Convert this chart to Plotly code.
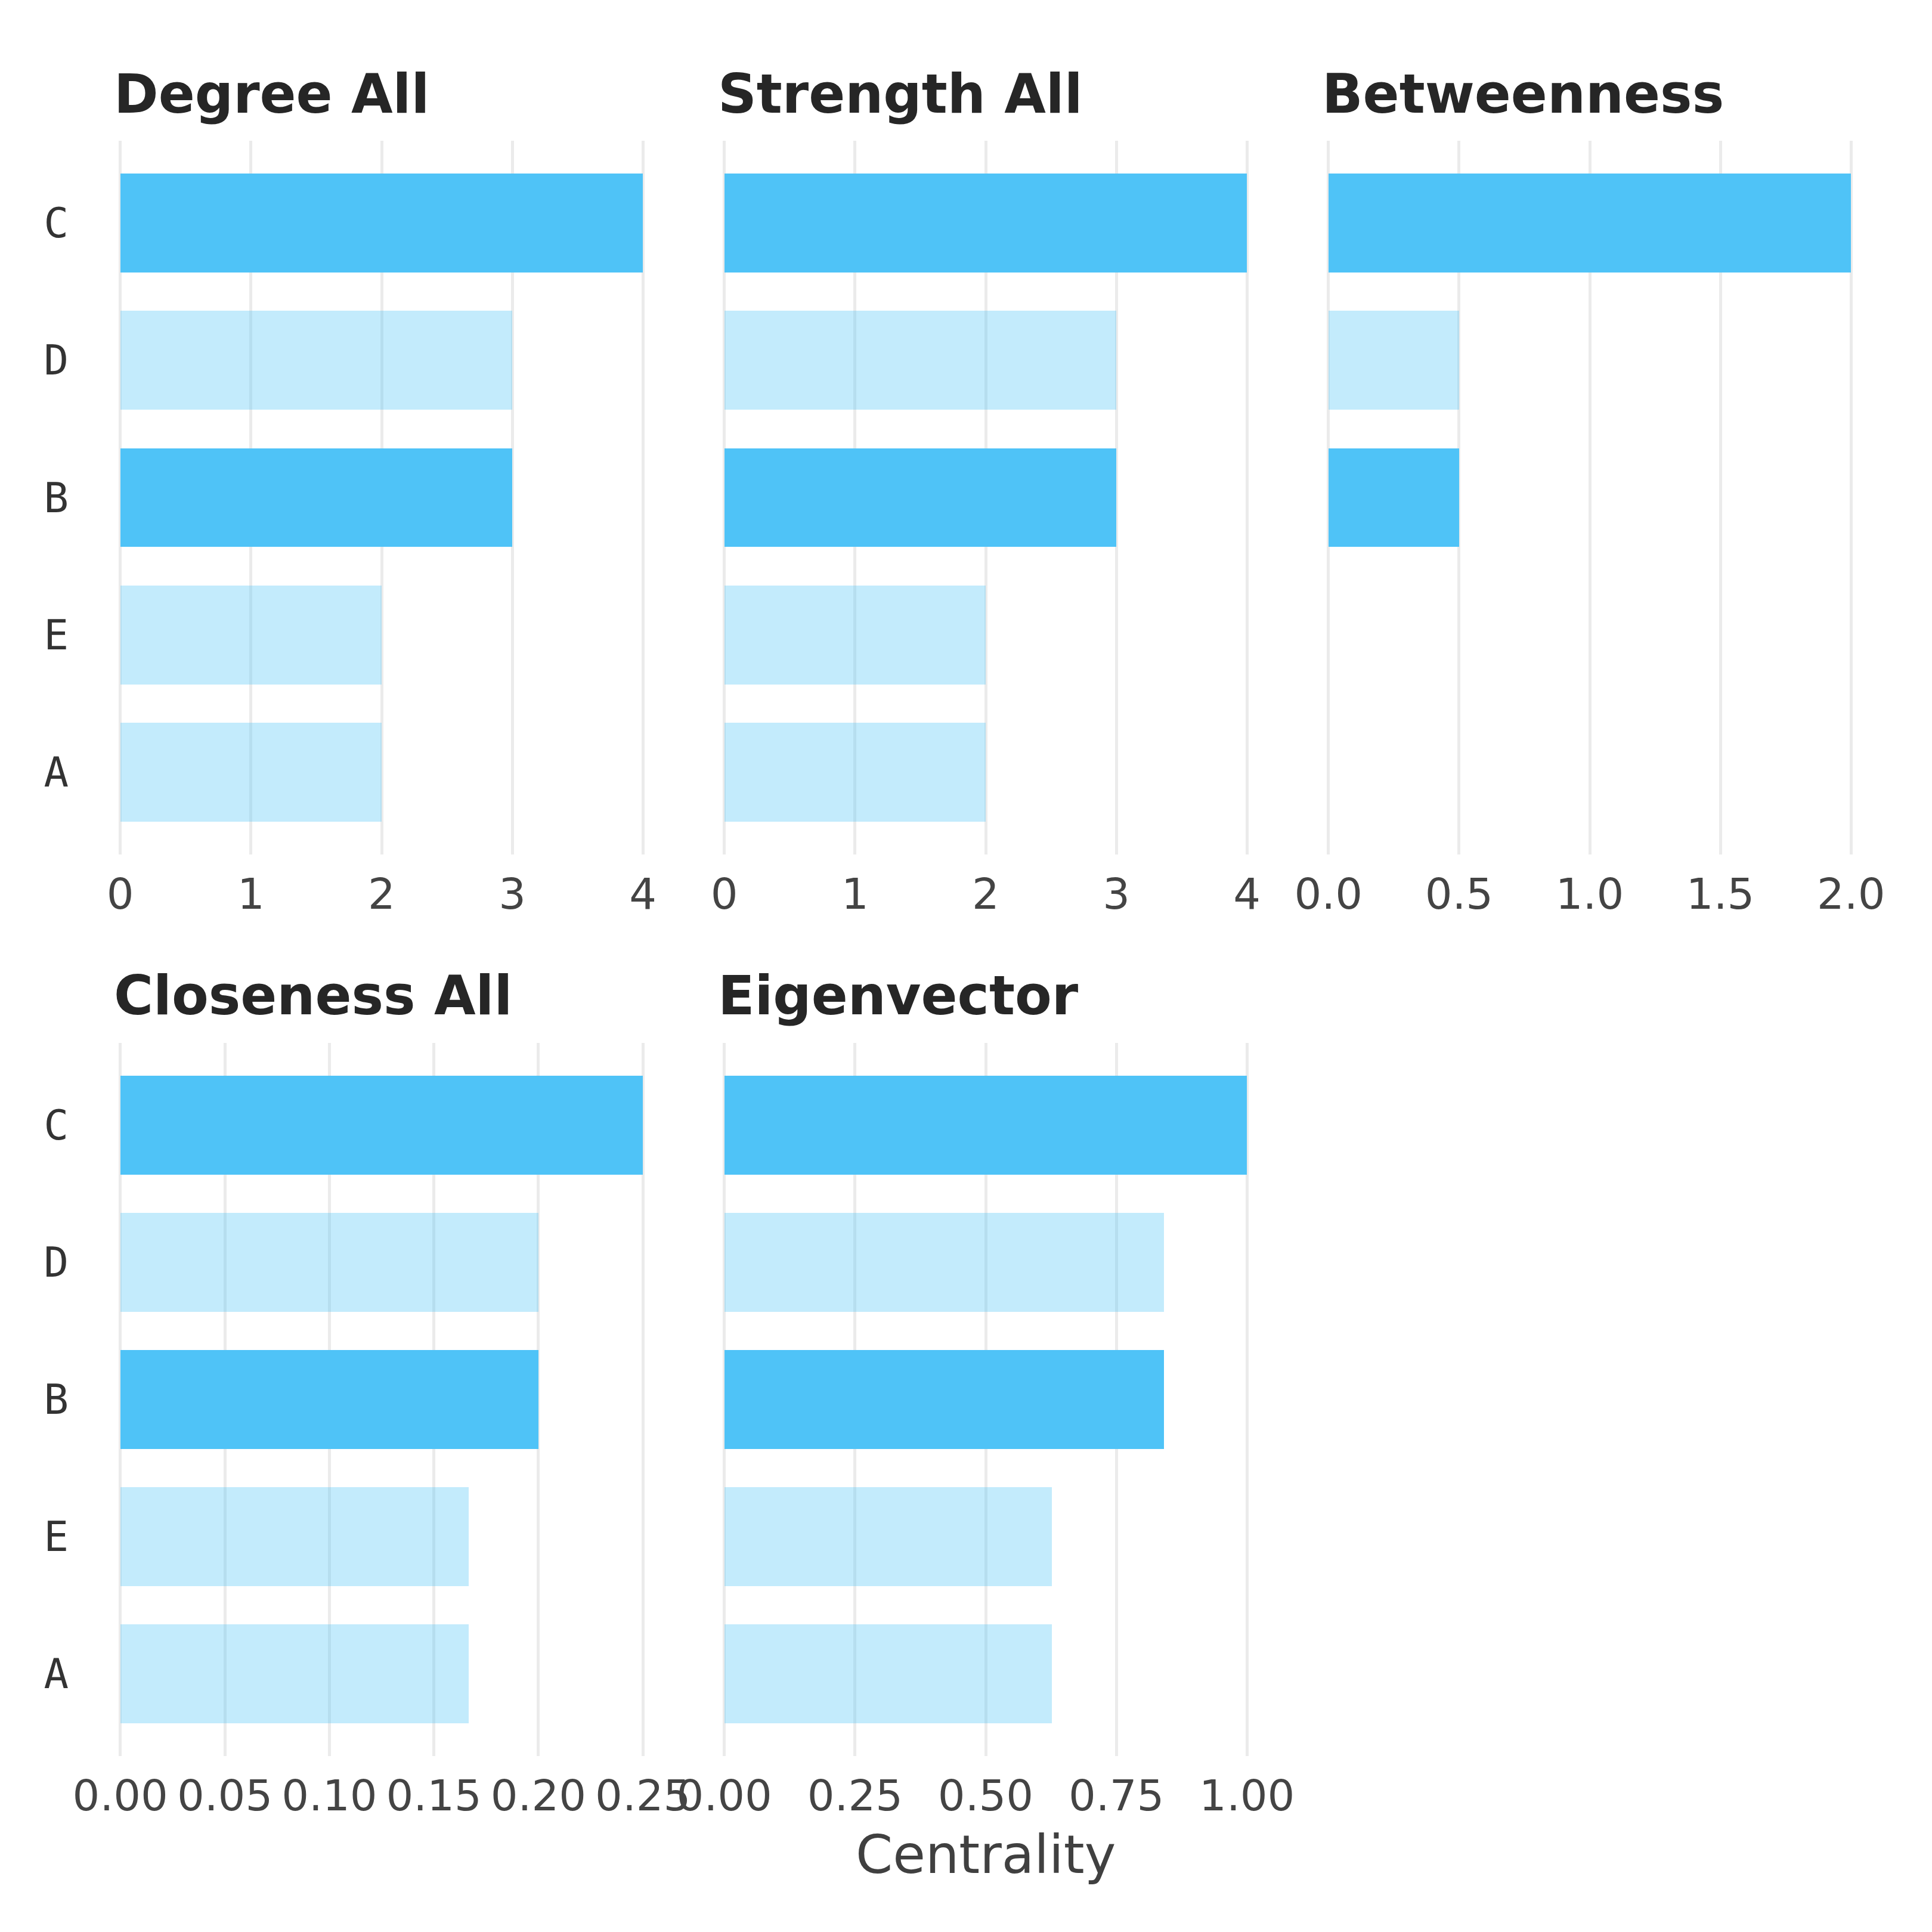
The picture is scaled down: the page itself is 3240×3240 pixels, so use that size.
import plotly.graph_objects as go

# centrality scores per node (top to bottom)
NODES = ["C", "D", "B", "E", "A"]
DEGREE_ALL = [4, 3, 3, 2, 2]
STRENGTH_ALL = [4, 3, 3, 2, 2]
BETWEENNESS = [2.0, 0.5, 0.5, 0.0, 0.0]
CLOSENESS_ALL = [0.25, 0.2, 0.2, 0.1667, 0.1667]
EIGENVECTOR = [1.0, 0.841, 0.841, 0.627, 0.627]
HIGHLIGHT = ["C", "B"]

PANEL_TITLES = ["Degree All", "Strength All", "Betweenness", "Closeness All", "Eigenvector"]
PANEL_VALUES = [DEGREE_ALL, STRENGTH_ALL, BETWEENNESS, CLOSENESS_ALL, EIGENVECTOR]
PANEL_DTICK = [1, 1, 0.5, 0.05, 0.25]
PANEL_FORMAT = ["d", "d", ".1f", ".2f", ".2f"]

W = 3240
H = 3240
DARK = "rgba(79,195,247,1)"
LIGHT = "rgba(79,195,247,0.34)"
GRID = "#EBEBEB"


def px_x(p):
    return p / W


def px_y(p):
    # pixel from top -> paper from bottom
    return 1 - p / H


# panel boxes in pixels: (left, right), (top, bottom)
COLS = [(200, 1080), (1213, 2093), (2226, 3106)]
ROWS = [(236, 1433), (1749, 2945)]
TITLE_BASE = [190, 1702]


def main():
    fig = go.Figure()
    for i, (title, vals) in enumerate(zip(PANEL_TITLES, PANEL_VALUES)):
        r, c = divmod(i, 3)
        n = i + 1
        xa = "x" if n == 1 else f"x{n}"
        ya = "y" if n == 1 else f"y{n}"
        colors = [DARK if nd in HIGHLIGHT else LIGHT for nd in NODES]
        fig.add_trace(go.Bar(x=vals, y=NODES, orientation="h", width=0.72,
                             marker=dict(color=colors, line=dict(width=0)),
                             xaxis=xa, yaxis=ya, showlegend=False))

        x0, x1 = COLS[c]
        y0, y1 = ROWS[r]
        xkey = "xaxis" if n == 1 else f"xaxis{n}"
        ykey = "yaxis" if n == 1 else f"yaxis{n}"
        # a hair of padding so plotly keeps the grid lines at both ends
        pad = max(vals) * 0.002
        fig.update_layout({
            xkey: dict(domain=[px_x(x0), px_x(x1)], anchor=ya, range=[-pad, max(vals) + pad],
                       tick0=0, dtick=PANEL_DTICK[i], tickformat=PANEL_FORMAT[i],
                       showgrid=True, gridcolor=GRID, gridwidth=4.5, zeroline=False,
                       showline=False, ticks="", ticklabelstandoff=18, automargin=False,
                       tickfont=dict(family="DejaVu Sans", size=72, color="#444444")),
            ykey: dict(domain=[px_y(y1), px_y(y0)], anchor=xa, type="category",
                       categoryorder="array", categoryarray=NODES[::-1],
                       range=[-0.6, 4.6], showgrid=False, zeroline=False,
                       showline=False, ticks="", showticklabels=(c == 0),
                       ticklabelstandoff=84, automargin=False,
                       tickfont=dict(family="DejaVu Sans Mono", size=69, color="#333333")),
        })
        # facet title
        fig.add_annotation(text=f"<b>{title}</b>", xref="paper", yref="paper",
                           x=px_x(x0 - 10), y=px_y(TITLE_BASE[r] + 21),
                           xanchor="left", yanchor="bottom", showarrow=False,
                           borderpad=0,
                           font=dict(family="DejaVu Sans", size=90, color="#262626"))

    fig.add_annotation(text="Centrality", xref="paper", yref="paper",
                       x=px_x((COLS[0][0] + COLS[2][1]) / 2), y=px_y(3142 + 21),
                       xanchor="center", yanchor="bottom", showarrow=False, borderpad=0,
                       font=dict(family="DejaVu Sans", size=89, color="#404040"))

    fig.update_layout(width=W, height=H, margin=dict(l=0, r=0, t=0, b=0),
                      paper_bgcolor="white", plot_bgcolor="white", bargap=0)
    # drop the browser's default page margin so the figure sits at 0,0
    fig.write_html("out.html", config={"displayModeBar": False},
                   post_script="document.body.style.margin = '0';")


if __name__ == "__main__":
    main()
